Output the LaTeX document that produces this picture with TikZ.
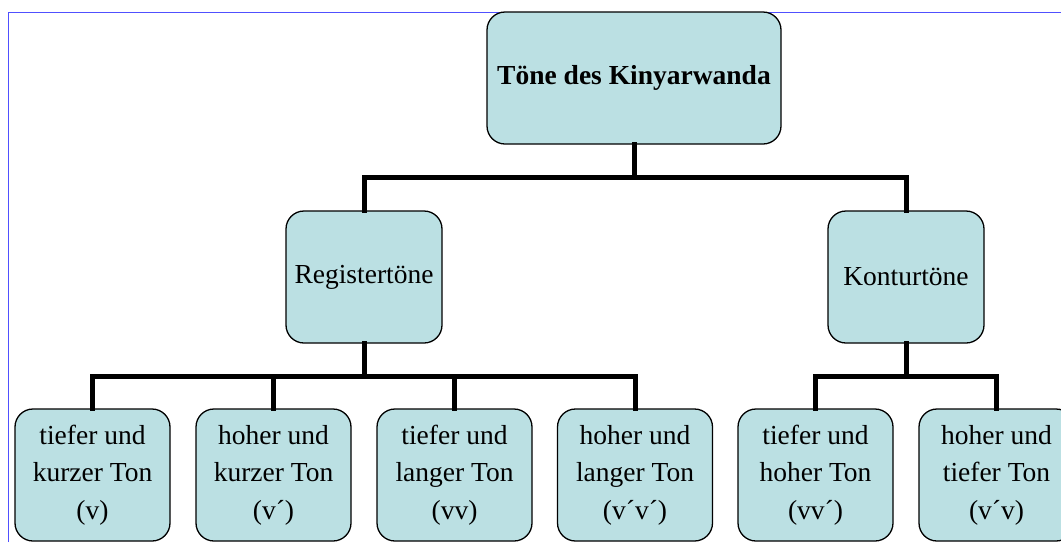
\documentclass[tikz,border=0pt]{standalone}
\usepackage{fontspec}
\setmainfont{Liberation Serif}
\definecolor{boxfill}{RGB}{187,224,227}
\definecolor{frameblue}{RGB}{80,80,255}
\begin{document}
\begin{tikzpicture}[x=1pt,y=-1pt,
  tonebox/.style={draw=black, line width=1.3pt, fill=boxfill, rounded corners=18pt,
    minimum height=132pt, align=center, inner sep=0pt,
    font=\fontsize{27.5}{37.5}\selectfont},
  conn/.style={draw=black, line width=5pt, line join=miter, line cap=rect}]
\useasboundingbox (0,0) rectangle (1061,542);
% page frame
\draw[frameblue, line width=1pt] (8,542) -- (8,12) -- (1061,12);

% root
\node[tonebox, minimum width=294pt, font=\fontsize{27.5}{37.5}\selectfont\bfseries] (root) at (634,78) {Töne des Kinyarwanda};
% second level
\node[tonebox, minimum width=156pt] (reg) at (364,277) {Registertöne};
\node[tonebox, minimum width=156pt] (kon) at (906,277) {Konturtöne};
% leaves
\node[tonebox, minimum width=155pt] (l1) at (92.5,475) {tiefer und\\kurzer Ton\\(v)};
\node[tonebox, minimum width=155pt] (l2) at (273.5,475) {hoher und\\kurzer Ton\\(v´)};
\node[tonebox, minimum width=155pt] (l3) at (454.5,475) {tiefer und\\langer Ton\\(vv)};
\node[tonebox, minimum width=155pt] (l4) at (635,475) {hoher und\\langer Ton\\(v´v´)};
\node[tonebox, minimum width=155pt] (l5) at (815.5,475) {tiefer und\\hoher Ton\\(vv´)};
\node[tonebox, minimum width=155pt] (l6) at (996.5,475) {hoher und\\tiefer Ton\\(v´v)};

% bus levels
\coordinate (busA) at (0,177);
\coordinate (busB) at (0,376);

% root to second level
\draw[conn] (root.south) -- (root.south |- busA);
\draw[conn] (reg.north) |- (busA -| root.south) -| (kon.north);
% Registertöne to its leaves
\draw[conn] (reg.south) -- (reg.south |- busB);
\draw[conn] (l1.north) |- (busB -| reg.south) -| (l4.north);
\draw[conn] (l2.north) -- (l2.north |- busB);
\draw[conn] (l3.north) -- (l3.north |- busB);
% Konturtöne to its leaves
\draw[conn] (kon.south) -- (kon.south |- busB);
\draw[conn] (l5.north) |- (busB -| kon.south) -| (l6.north);
\end{tikzpicture}
\end{document}
